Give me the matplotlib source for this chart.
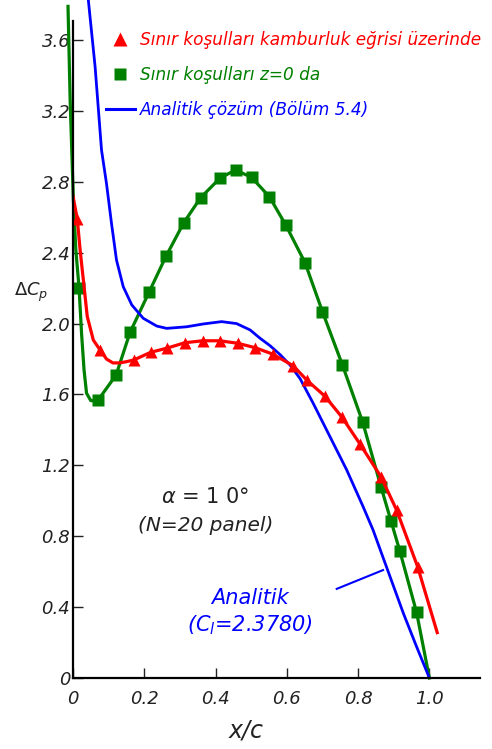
import matplotlib.pyplot as plt
from matplotlib.lines import Line2D

# Sınır koşulları kamburluk eğrisi üzerinde (işaretler)
red_x = [0.012, 0.076, 0.171, 0.218, 0.263, 0.314, 0.364, 0.412, 0.462, 0.511,
         0.560, 0.618, 0.657, 0.707, 0.755, 0.805, 0.864, 0.908, 0.967]
red_y = [2.59, 1.851, 1.795, 1.838, 1.861, 1.892, 1.903, 1.903, 1.889, 1.864,
         1.828, 1.762, 1.679, 1.590, 1.471, 1.321, 1.136, 0.948, 0.628]
# kırmızı eğri
red_line_x = [0.0, 0.012, 0.020, 0.040, 0.057, 0.076, 0.094, 0.112, 0.130, 0.150,
              0.171, 0.218, 0.263, 0.314, 0.364, 0.412, 0.462, 0.511, 0.560, 0.618,
              0.657, 0.707, 0.755, 0.805, 0.864, 0.908, 0.967, 1.022]
red_line_y = [2.72, 2.59, 2.415, 2.04, 1.907, 1.851, 1.80, 1.778, 1.778, 1.785,
              1.795, 1.838, 1.861, 1.892, 1.903, 1.903, 1.889, 1.864, 1.828, 1.762,
              1.679, 1.590, 1.471, 1.321, 1.136, 0.948, 0.628, 0.256]

# Sınır koşulları z=0 da (işaretler)
green_x = [0.017, 0.071, 0.121, 0.160, 0.214, 0.261, 0.311, 0.358, 0.412, 0.456,
           0.501, 0.551, 0.597, 0.651, 0.700, 0.756, 0.813, 0.864, 0.892, 0.917, 0.964]
green_y = [2.20, 1.57, 1.71, 1.95, 2.18, 2.38, 2.57, 2.71, 2.82, 2.867,
           2.825, 2.716, 2.556, 2.344, 2.067, 1.766, 1.443, 1.080, 0.888, 0.717, 0.371]
# yeşil eğri
green_line_x = [-0.014, -0.008, 0.001, 0.008, 0.017, 0.024, 0.031, 0.038, 0.050, 0.066,
                0.071, 0.121, 0.160, 0.214, 0.261, 0.311, 0.358, 0.412, 0.456, 0.501,
                0.551, 0.597, 0.651, 0.700, 0.756, 0.813, 0.864, 0.892, 0.917, 0.964, 1.0]
green_line_y = [3.79, 3.26, 2.70, 2.415, 2.20, 1.945, 1.738, 1.607, 1.565, 1.565,
                1.57, 1.71, 1.95, 2.18, 2.38, 2.57, 2.71, 2.82, 2.867, 2.825,
                2.716, 2.556, 2.344, 2.067, 1.766, 1.443, 1.080, 0.888, 0.717, 0.371, 0.0]

# Analitik çözüm
blue_x = [0.043, 0.062, 0.080, 0.094, 0.108, 0.122, 0.141, 0.165, 0.197, 0.235,
          0.263, 0.319, 0.366, 0.417, 0.459, 0.497, 0.525, 0.553, 0.581, 0.609,
          0.637, 0.674, 0.721, 0.768, 0.814, 0.842, 0.870, 0.927, 0.964, 1.0]
blue_y = [3.826, 3.45, 2.98, 2.79, 2.566, 2.359, 2.208, 2.105, 2.03, 1.986,
          1.973, 1.982, 1.998, 2.011, 2.0, 1.964, 1.917, 1.875, 1.825, 1.766,
          1.69, 1.55, 1.362, 1.174, 0.967, 0.835, 0.68, 0.365, 0.177, 0.0]

xticks = [0.2, 0.4, 0.6, 0.8, 1.0]
yticks = [0, 0.4, 0.8, 1.2, 1.6, 2.0, 2.4, 2.8, 3.2, 3.6]

RED, GREEN, BLUE = '#ff0000', '#008000', '#0000ff'

fig = plt.figure(figsize=(4.92, 7.49), dpi=100)
ax = fig.add_axes([73/492, 71/749, 407/492, 678/749])

ax.plot(green_line_x, green_line_y, color=GREEN, lw=2.3, clip_on=False)
ax.plot(green_x, green_y, 's', color=GREEN, ms=8, mec='none')
ax.plot(blue_x, blue_y, color=BLUE, lw=2.0)
ax.plot(red_line_x, red_line_y, color=RED, lw=2.3)
ax.plot(red_x, red_y, '^', color=RED, ms=9, mec='none')

ax.set_xlim(0, 1.142)
ax.set_ylim(0, 3.826)
for s in ['top', 'right']:
    ax.spines[s].set_visible(False)
ax.spines['left'].set_bounds(0, 3.71)
ax.spines['left'].set_linewidth(1.6)
ax.spines['bottom'].set_linewidth(1.6)

ax.set_xticks([0] + xticks)
ax.set_xticklabels(['0', '0.2', '0.4', '0.6', '0.8', '1.0'])
ax.set_yticks(yticks)
ax.set_yticklabels(['0'] + [f'{v:.1f}' for v in yticks[1:]])
ax.tick_params(direction='in', length=7, width=1.0, labelsize=13, color='#222222')
ax.tick_params(axis='x', pad=9)
ax.tick_params(axis='y', pad=2)
for lbl in ax.get_xticklabels() + ax.get_yticklabels():
    lbl.set_fontstyle('italic')
    lbl.set_color('#222222')

fig.text(246/492, 1 - 730/749, 'x/c', fontsize=17, style='italic',
         ha='center', va='center', color='#222222')
fig.text(31/492, 1 - 292/749, r'$\mathit{\Delta}C_p$', fontsize=13,
         ha='center', va='center', color='#222222')

ax.text(0.37, 1.02, r'$\alpha$ = 1 0°', fontsize=15, ha='center', va='center',
        color='#222222')
ax.text(0.372, 0.86, '(N=20 panel)', fontsize=14.5, style='italic',
        ha='center', va='center', color='#222222')
ax.text(0.498, 0.45, 'Analitik', fontsize=15, style='italic',
        ha='center', va='center', color=BLUE)
ax.text(0.497, 0.30, r'($C_l$=2.3780)', fontsize=15, style='italic',
        ha='center', va='center', color=BLUE)
ax.plot([0.740, 0.870], [0.503, 0.609], color=BLUE, lw=1.5)

handles = [
    Line2D([], [], color=RED, marker='^', ls='none', ms=10, mec='none'),
    Line2D([], [], color=GREEN, marker='s', ls='none', ms=9, mec='none'),
    Line2D([], [], color=BLUE, lw=2.2),
]
labels = ['Sınır koşulları kamburluk eğrisi üzerinde',
          'Sınır koşulları z=0 da',
          'Analitik çözüm (Bölüm 5.4)']
leg = fig.legend(handles, labels, loc='upper left',
                 bbox_to_anchor=(106/492, 1 - 31/749), frameon=False,
                 fontsize=12.2, handlelength=1.7, handletextpad=0.3,
                 labelspacing=1.0, borderpad=0, borderaxespad=0)
for t, c in zip(leg.get_texts(), [RED, GREEN, BLUE]):
    t.set_color(c)
    t.set_fontstyle('italic')

fig.savefig('out.png', dpi=100)
